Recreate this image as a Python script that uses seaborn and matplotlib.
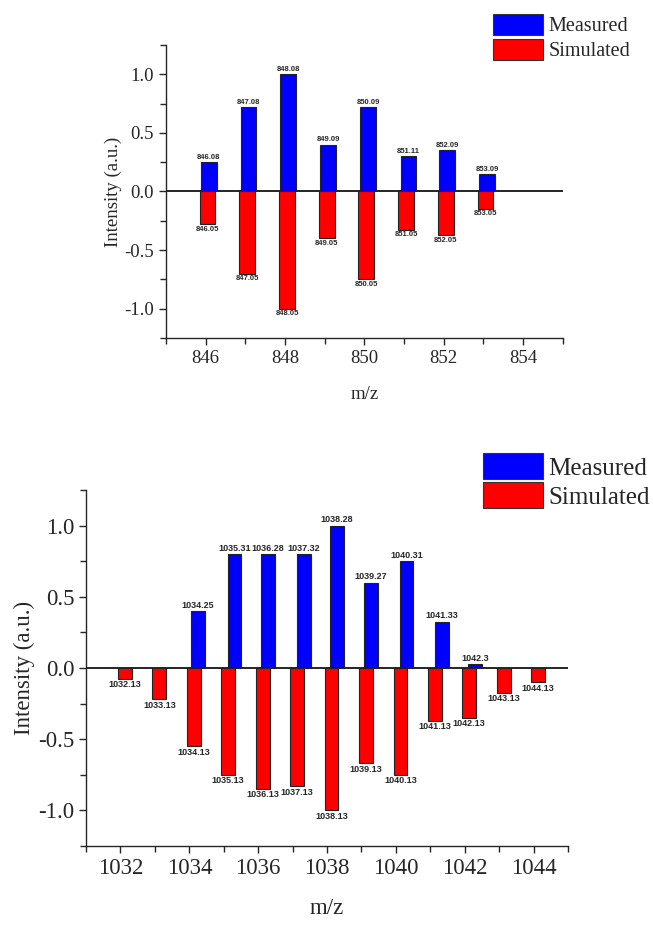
import numpy as np
import pandas as pd
import matplotlib
matplotlib.use("Agg")
import matplotlib.pyplot as plt
from matplotlib.patches import Patch
from matplotlib.ticker import MultipleLocator
import seaborn as sns

# peak data (m/z and normalised intensity)
top_meas_mz = [846.08, 847.08, 848.08, 849.09, 850.09, 851.11, 852.09, 853.09]
top_meas_int = [0.25, 0.72, 1.0, 0.40, 0.72, 0.30, 0.35, 0.15]
top_sim_mz = [846.05, 847.05, 848.05, 849.05, 850.05, 851.05, 852.05, 853.05]
top_sim_int = [-0.28, -0.70, -1.0, -0.40, -0.75, -0.325, -0.375, -0.15]

bot_meas_mz = [1034.25, 1035.31, 1036.28, 1037.32, 1038.28, 1039.27, 1040.31, 1041.33, 1042.3]
bot_meas_int = [0.40, 0.80, 0.80, 0.80, 1.0, 0.60, 0.75, 0.325, 0.025]
bot_sim_mz = [1032.13, 1033.13, 1034.13, 1035.13, 1036.13, 1037.13, 1038.13,
              1039.13, 1040.13, 1041.13, 1042.13, 1043.13, 1044.13]
bot_sim_int = [-0.075, -0.22, -0.55, -0.75, -0.85, -0.83, -1.0,
               -0.67, -0.75, -0.37, -0.35, -0.175, -0.10]

top_meas_lbl = ["846.08", "847.08", "848.08", "849.09", "850.09", "851.11", "852.09", "853.09"]
top_sim_lbl = ["846.05", "847.05", "848.05", "849.05", "850.05", "851.05", "852.05", "853.05"]
bot_meas_lbl = ["1034.25", "1035.31", "1036.28", "1037.32", "1038.28", "1039.27", "1040.31", "1041.33", "1042.3"]
bot_sim_lbl = ["1032.13", "1033.13", "1034.13", "1035.13", "1036.13", "1037.13", "1038.13",
               "1039.13", "1040.13", "1041.13", "1042.13", "1043.13", "1044.13"]

sns.set_style("ticks")
plt.rcParams['font.family'] = ['Liberation Serif', 'DejaVu Serif']
plt.rcParams['axes.linewidth'] = 1.0

BLUE = "#0000ff"
RED = "#ff0000"


def draw_panel(ax, meas_mz, meas_int, meas_lbl, sim_mz, sim_int, sim_lbl,
               xlim, xticks, fs, lfs):
    # bar width of 0.4 m/z units (seaborn scales width by min spacing)
    for mz, inten, col in [(meas_mz, meas_int, BLUE), (sim_mz, sim_int, RED)]:
        df = pd.DataFrame({"mz": mz, "intensity": inten})
        w = 0.4 / np.diff(mz).min()
        sns.barplot(data=df, x="mz", y="intensity", native_scale=True, width=w,
                    color=col, saturation=1, edgecolor="#222222", linewidth=0.8,
                    errorbar=None, ax=ax)
    ax.bar_label(ax.containers[0], labels=meas_lbl, padding=1, fontsize=lfs,
                 fontweight="bold", family="Liberation Sans")
    ax.bar_label(ax.containers[1], labels=sim_lbl, padding=1, fontsize=lfs,
                 fontweight="bold", family="Liberation Sans")
    ax.axhline(0, color="black", lw=1.2, zorder=0.5)
    ax.set_xlim(*xlim)
    ax.set_ylim(-1.25, 1.25)
    ax.set_xticks(xticks)
    ax.xaxis.set_minor_locator(MultipleLocator(1))
    ax.yaxis.set_major_locator(MultipleLocator(0.5))
    ax.yaxis.set_minor_locator(MultipleLocator(0.25))
    ax.set_yticklabels([f"{v:.1f}" for v in ax.get_yticks()])
    ax.tick_params(which="major", length=5, width=1, labelsize=fs)
    ax.tick_params(which="minor", length=4, width=1)
    ax.set_xlabel("m/z", fontsize=fs, labelpad=14)
    ax.set_ylabel("Intensity (a.u.)", fontsize=fs, labelpad=2)
    sns.despine(ax=ax)


fig = plt.figure(figsize=(6.53, 9.25), dpi=100)
ax1 = fig.add_axes([0.254, 0.6346, 0.608, 0.3168])
ax2 = fig.add_axes([0.1317, 0.0854, 0.7383, 0.3849])

draw_panel(ax1, top_meas_mz, top_meas_int, top_meas_lbl, top_sim_mz, top_sim_int, top_sim_lbl,
           (845, 855), [846, 848, 850, 852, 854], 13.5, 5.5)
draw_panel(ax2, bot_meas_mz, bot_meas_int, bot_meas_lbl, bot_sim_mz, bot_sim_int, bot_sim_lbl,
           (1031, 1045), [1032, 1034, 1036, 1038, 1040, 1042, 1044], 16.5, 6.5)

handles = [Patch(facecolor=BLUE, edgecolor="#333333", lw=0.8),
           Patch(facecolor=RED, edgecolor="#333333", lw=0.8)]
fig.legend(handles, ["Measured", "Simulated"], loc="upper left",
           bbox_to_anchor=(489 / 653, 1 - 10 / 925), frameon=False, fontsize=14.5,
           handlelength=2.5, handleheight=1.25, labelspacing=0.12,
           handletextpad=0.25, borderpad=0.2, borderaxespad=0)
fig.legend(handles, ["Measured", "Simulated"], loc="upper left",
           bbox_to_anchor=(478 / 653, 1 - 448 / 925), frameon=False, fontsize=18,
           handlelength=2.4, handleheight=1.24, labelspacing=0.1,
           handletextpad=0.22, borderpad=0.2, borderaxespad=0)

fig.savefig("out.png", dpi=100)
